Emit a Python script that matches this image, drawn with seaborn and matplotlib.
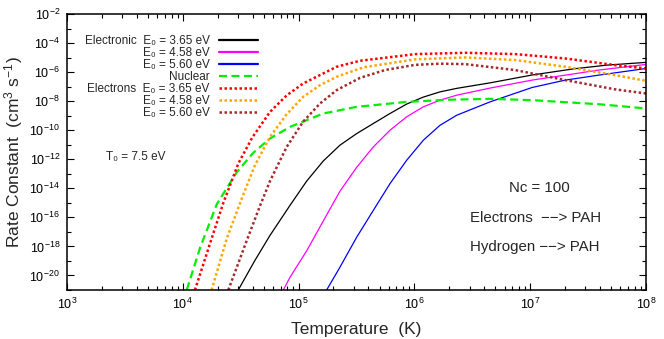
import numpy as np
import pandas as pd
import matplotlib
matplotlib.use("Agg")
import matplotlib.pyplot as plt
import matplotlib.ticker as mticker
import seaborn as sns

# log10(T [K]) and log10(rate [cm^3 s^-1])
# Electronic, E0 = 3.65 eV
el365_logT = [4.479, 4.62, 4.753, 4.926, 5.07, 5.213, 5.357, 5.502, 5.645, 5.789, 5.933,
              6.077, 6.221, 6.365, 6.653, 7.016, 7.372, 7.66, 8.0]
el365_logk = [-21.0, -19.0, -17.24, -15.17, -13.5, -12.12, -11.03, -10.23, -9.54, -8.85, -8.2,
              -7.72, -7.36, -7.12, -6.74, -6.2, -5.78, -5.52, -5.33]
# Electronic, E0 = 4.58 eV
el458_logT = [4.868, 4.926, 5.07, 5.213, 5.357, 5.502, 5.645, 5.789, 5.933, 6.077, 6.221,
              6.365, 6.653, 7.016, 7.303, 7.591, 8.0]
el458_logk = [-21.0, -20.12, -18.3, -16.25, -14.2, -12.55, -11.15, -10.0, -9.08, -8.39, -7.93,
              -7.59, -7.1, -6.55, -6.21, -5.86, -5.47]
# Electronic, E0 = 5.60 eV
el560_logT = [5.242, 5.357, 5.502, 5.645, 5.789, 5.933, 6.077, 6.221, 6.365, 6.653, 7.016,
              7.303, 7.591, 8.0]
el560_logk = [-21.0, -19.43, -17.36, -15.52, -13.68, -12.07, -10.69, -9.66, -8.97, -8.05, -7.06,
              -6.55, -6.21, -5.75]
# Nuclear
nuc_logT = [4.034, 4.149, 4.293, 4.465, 4.609, 4.753, 4.926, 5.213, 5.502, 5.933, 6.3,
            6.653, 7.016, 7.591, 8.0]
nuc_logk = [-21.0, -18.1, -15.1, -12.9, -11.55, -10.57, -9.77, -8.85, -8.39, -8.05, -7.9,
            -7.84, -7.93, -8.21, -8.5]
# Electrons, E0 = 3.65 eV
ec365_logT = [4.105, 4.235, 4.35, 4.479, 4.60, 4.753, 4.897, 5.04, 5.329, 5.53, 6.008,
              6.44, 6.871, 7.303, 7.735, 8.0]
ec365_logk = [-21.0, -17.8, -15.0, -12.3, -10.5, -8.74, -7.6, -6.78, -5.63, -5.22, -4.76,
              -4.67, -4.76, -5.06, -5.52, -5.75]
# Electrons, E0 = 4.58 eV
ec458_logT = [4.249, 4.379, 4.509, 4.623, 4.753, 4.897, 5.04, 5.185, 5.329, 5.53, 5.576,
              6.008, 6.44, 6.871, 7.303, 7.735, 8.0]
ec458_logk = [-21.0, -17.47, -14.71, -12.41, -10.46, -8.9, -7.7, -6.9, -6.32, -5.75, -5.65,
              -5.12, -4.99, -5.17, -5.63, -6.21, -6.6]
# Electrons, E0 = 5.60 eV
ec560_logT = [4.393, 4.552, 4.667, 4.753, 4.897, 5.04, 5.185, 5.329, 5.53, 5.75, 6.008,
              6.22, 6.44, 6.871, 7.303, 7.735, 8.0]
ec560_logk = [-21.0, -17.6, -15.2, -13.5, -11.15, -9.4, -8.16, -7.24, -6.4, -5.85, -5.5,
              -5.42, -5.45, -5.86, -6.55, -7.19, -7.47]

labels = ["Electronic  E₀ = 3.65 eV", "E₀ = 4.58 eV", "E₀ = 5.60 eV", "Nuclear",
          "Electrons  E₀ = 3.65 eV", "E₀ = 4.58 eV", "E₀ = 5.60 eV"]
series = [(el365_logT, el365_logk), (el458_logT, el458_logk), (el560_logT, el560_logk),
          (nuc_logT, nuc_logk), (ec365_logT, ec365_logk), (ec458_logT, ec458_logk),
          (ec560_logT, ec560_logk)]
colors = ["black", "#ff00ff", "#0000ff", "#00ee00", "#ff0000", "#ffa500", "#a52a2a"]
widths = [0.9, 0.9, 0.9, 1.6, 1.8, 1.8, 1.8]
styles = ["-", "-", "-", (0, (3.6, 2.0)), (0, (1.0, 1.0)), (0, (1.0, 1.0)), (0, (1.0, 1.0))]

sns.set_style("ticks")
plt.rcParams["font.family"] = ["Liberation Sans", "DejaVu Sans"]
plt.rcParams["mathtext.fontset"] = "custom"
plt.rcParams["mathtext.rm"] = "Liberation Sans"
plt.rcParams["mathtext.it"] = "Liberation Sans:italic"
plt.rcParams["mathtext.default"] = "regular"

fig = plt.figure(figsize=(6.64, 3.39), dpi=100)
ax = fig.add_axes([0.1009, 0.1445, 0.8720, 0.8142])

for (lt, lk), lab, c, w, ls in zip(series, labels, colors, widths, styles):
    df = pd.DataFrame({"T": 10.0 ** np.array(lt), "k": 10.0 ** np.array(lk)})
    sns.lineplot(data=df, x="T", y="k", ax=ax, color=c, lw=w, linestyle=ls,
                 label=lab, estimator=None, sort=False, dash_capstyle="butt")

ax.set_xscale("log")
ax.set_yscale("log")
ax.set_xlim(1e3, 1e8)
ax.set_ylim(1e-21, 1e-2)

ax.xaxis.set_major_locator(mticker.LogLocator(base=10, numticks=20))
ax.xaxis.set_minor_locator(mticker.LogLocator(base=10, subs=np.arange(2, 10), numticks=50))
ax.xaxis.set_minor_formatter(mticker.NullFormatter())
ax.yaxis.set_major_locator(mticker.FixedLocator([10.0 ** e for e in range(-20, -1, 2)]))
ax.yaxis.set_minor_locator(mticker.FixedLocator([10.0 ** e for e in range(-21, -2, 2)]))
ax.yaxis.set_major_formatter(mticker.LogFormatterMathtext())
ax.yaxis.set_minor_formatter(mticker.NullFormatter())

ax.tick_params(which="both", direction="in", top=True, right=True, width=0.8,
               colors="black", labelsize=9)
ax.tick_params(which="major", length=5, pad=5)
ax.tick_params(which="minor", length=2.6)
for s in ax.spines.values():
    s.set_linewidth(1.1)
    s.set_color("black")

ax.set_xlabel("Temperature  (K)", fontsize=12.5)
ax.set_ylabel("Rate Constant  (cm$^3$ s$^{-1}$)", fontsize=12.5)
ax.xaxis.set_label_coords(0.5, -0.115)
ax.yaxis.set_label_coords(-0.072, 0.5)

leg = ax.legend(loc="upper right", bbox_to_anchor=(0.33, 0.925), markerfirst=False,
                frameon=False, fontsize=8.5, handlelength=3.3, handletextpad=0.8,
                labelspacing=0.0, borderpad=0, borderaxespad=0)
for h in leg.get_lines():
    h.set_linewidth(max(h.get_linewidth(), 1.6))

ax.text(0.067, 0.482, "T₀ = 7.5 eV", transform=ax.transAxes, fontsize=8.5,
        va="center", ha="left")
ax.text(0.815, 0.37, "Nc = 100", transform=ax.transAxes, fontsize=10.8,
        va="center", ha="center")
ax.text(0.696, 0.261, "Electrons  −−> PAH", transform=ax.transAxes, fontsize=10.8,
        va="center", ha="left")
ax.text(0.696, 0.156, "Hydrogen −−> PAH", transform=ax.transAxes, fontsize=10.8,
        va="center", ha="left")

fig.savefig("out.png", dpi=100)
